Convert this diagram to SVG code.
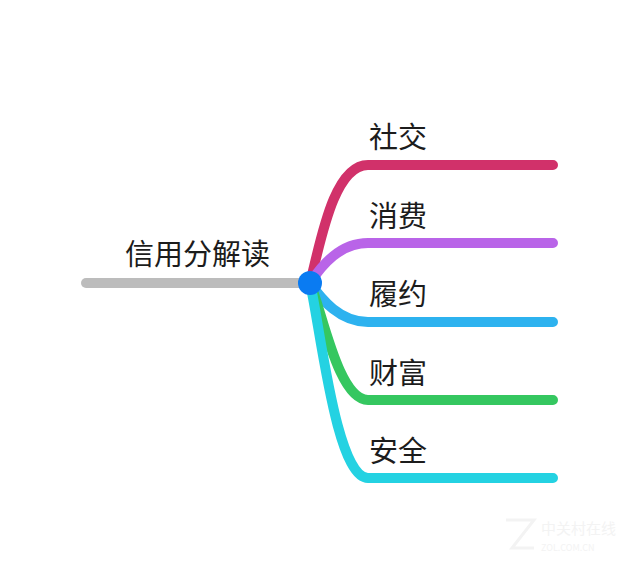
<svg xmlns="http://www.w3.org/2000/svg" width="640" height="566" viewBox="0 0 640 566">
<style>
.c{fill:none;stroke-width:10;stroke-linecap:round}
.t{font-family:"Noto Sans CJK SC","Noto Sans CJK JP",sans-serif;font-size:29px;fill:#1c1c1c}
.w{font-family:"Noto Sans CJK SC","Liberation Sans",sans-serif;fill:#f3f3f3}
</style>
<rect width="640" height="566" fill="#fff"/>
<g id="connectors">
<path class="c" stroke="#bcbcbc" d="M86 283H310"/>
<path class="c" stroke="#d1316a" d="M310 283C320 245 333 165 368 165H553"/>
<path class="c" stroke="#b964e8" d="M310 283C322 265 340 243 368 243H553"/>
<path class="c" stroke="#2db2ef" d="M310 283C322 300 340 322 368 322H553"/>
<path class="c" stroke="#35c760" d="M310 283C322 310 338 400 368 400H553"/>
<path class="c" stroke="#24d2e2" d="M310 283C320 325 336 478 368 478H553"/>
</g>
<g id="root"><circle cx="310" cy="283" r="12" fill="#0a7bf2"/><text class="t" x="125" y="265">信用分解读</text></g>
<g id="n1"><text class="t" x="369" y="148">社交</text></g>
<g id="n2"><text class="t" x="369" y="227">消费</text></g>
<g id="n3"><text class="t" x="369" y="305">履约</text></g>
<g id="n4"><text class="t" x="369" y="384">财富</text></g>
<g id="n5"><text class="t" x="369" y="462">安全</text></g>
<g id="watermark">
<text class="w" x="541" y="534" font-size="15">中关村在线</text>
<text class="w" x="541" y="551" font-size="9">ZOL.COM.CN</text>
<path d="M506 520H534L512 548H534" fill="none" stroke="#f3f3f3" stroke-width="3"/>
</g>
</svg>
